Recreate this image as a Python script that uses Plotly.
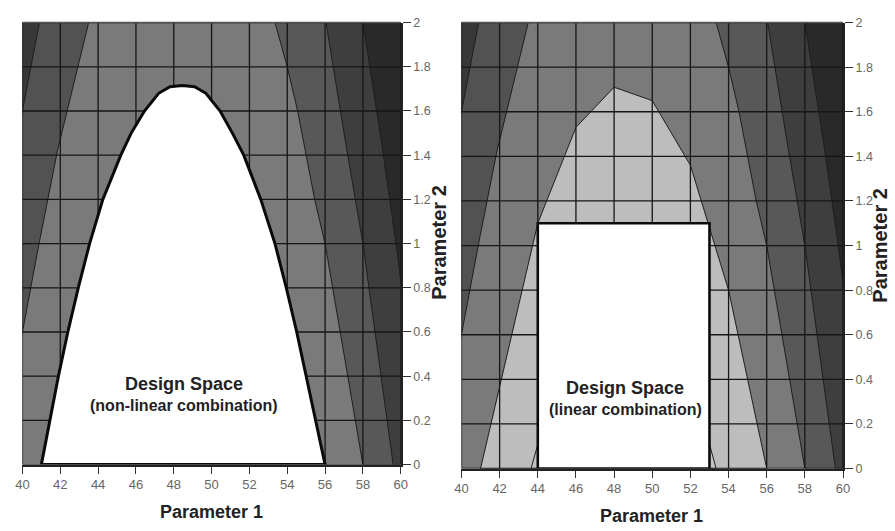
import plotly.graph_objects as go

# ---------------- data ----------------
x_ticks = [40, 42, 44, 46, 48, 50, 52, 54, 56, 58, 60]
x_ticktext = ["40", "42", "44", "46", "48", "50", "52", "54", "56", "58", "60"]
y_ticks = [0, 0.2, 0.4, 0.6, 0.8, 1.0, 1.2, 1.4, 1.6, 1.8, 2.0]
y_ticktext = ["0", "0.2", "0.4", "0.6", "0.8", "1", "1.2", "1.4", "1.6", "1.8", "2"]

# contour boundaries on the left (low Parameter 1) side
left1_x = [41.15, 40.9, 40.0, 39.3]
left1_y = [2.1, 2.0, 1.6, 1.29]
left2_x = [43.75, 43.5, 41.85, 40.9, 40.0, 39.4]
left2_y = [2.1, 2.0, 1.42, 1.01, 0.6, 0.35]

# contour boundaries on the right (high Parameter 1) side
right1_x = [53.0, 53.35, 54.0, 54.55, 55.0, 55.45, 56.0, 58.0, 58.2]
right1_y = [2.1, 2.0, 1.8, 1.6, 1.4, 1.2, 1.0, 0.0, -0.1]
right2_x = [55.8, 56.05, 57.0, 58.0, 59.6, 59.76]
right2_y = [2.1, 2.0, 1.5, 1.0, 0.0, -0.1]
right3_x = [57.8, 58.0, 59.0, 59.75, 60.5]
right3_y = [2.1, 2.0, 1.45, 1.0, 0.5]

# smooth design-space boundary (non-linear combination)
ds_curve_x = [41.0, 41.45, 41.9, 42.4, 42.95, 43.55, 44.25, 45.2, 45.75, 46.45, 47.2, 47.8,
              48.45, 49.1, 49.7, 50.45, 51.1, 51.7, 52.6, 53.35, 53.95, 54.5, 55.0, 55.5, 56.0]
ds_curve_y = [0.0, 0.2, 0.4, 0.6, 0.8, 1.0, 1.2, 1.4, 1.5, 1.6, 1.68, 1.71,
              1.715, 1.71, 1.68, 1.6, 1.5, 1.4, 1.2, 1.0, 0.8, 0.6, 0.4, 0.2, 0.0]

# coarse (grid-interpolated) contour of the same region
coarse_x = [41.0, 44.0, 46.0, 48.0, 50.0, 52.0, 54.0, 56.0]
coarse_y = [0.0, 1.1, 1.53, 1.71, 1.65, 1.36, 0.8, 0.0]
inner_x = [43.65, 44.3, 48.5, 52.7, 53.35]
inner_y = [0.0, 0.2, 0.95, 0.2, 0.0]

# rectangular design space (linear combination)
rect_x = [44, 44, 53, 53, 44]
rect_y = [0, 1.1, 1.1, 0, 0]

# ---------------- styling ----------------
C_MID = "#7a7a7a"
C_L2 = "#525252"
C_L1 = "#383838"
C_R1 = "#585858"
C_R2 = "#3e3e3e"
C_R3 = "#292929"
C_LIGHT = "#bdbdbd"
C_LINE = "#1e1e1e"
FONT = "Arial"

fig = go.Figure()


def region(xs, ys, side, color, xa, ya):
    edge = 37 if side == "left" else 63
    px = list(xs) + [edge, edge, xs[0]]
    py = list(ys) + [ys[-1], ys[0], ys[0]]
    fig.add_trace(go.Scatter(x=px, y=py, mode="lines", fill="toself", fillcolor=color,
                             line=dict(color=C_LINE, width=1), hoverinfo="skip",
                             showlegend=False, xaxis=xa, yaxis=ya))


def grid(xa, ya):
    gx, gy = [], []
    for xv in x_ticks:
        gx += [xv, xv, None]
        gy += [y_ticks[0], y_ticks[-1], None]
    for yv in y_ticks:
        gx += [x_ticks[0], x_ticks[-1], None]
        gy += [yv, yv, None]
    fig.add_trace(go.Scatter(x=gx, y=gy, mode="lines", line=dict(color="#161616", width=1.3),
                             hoverinfo="skip", showlegend=False, xaxis=xa, yaxis=ya))


for xa, ya in (("x", "y"), ("x2", "y2")):
    region(left2_x, left2_y, "left", C_L2, xa, ya)
    region(left1_x, left1_y, "left", C_L1, xa, ya)
    region(right1_x, right1_y, "right", C_R1, xa, ya)
    region(right2_x, right2_y, "right", C_R2, xa, ya)
    region(right3_x, right3_y, "right", C_R3, xa, ya)
    if xa == "x2":
        fig.add_trace(go.Scatter(x=coarse_x + [coarse_x[0]], y=coarse_y + [coarse_y[0]],
                                 mode="lines", fill="toself", fillcolor=C_LIGHT,
                                 line=dict(color=C_LINE, width=1), hoverinfo="skip",
                                 showlegend=False, xaxis=xa, yaxis=ya))
        fig.add_trace(go.Scatter(x=inner_x + [inner_x[0]], y=inner_y + [inner_y[0]],
                                 mode="lines", fill="toself", fillcolor="#c3c3c3",
                                 line=dict(color=C_LINE, width=1), hoverinfo="skip",
                                 showlegend=False, xaxis=xa, yaxis=ya))
    grid(xa, ya)

# design spaces
fig.add_trace(go.Scatter(x=ds_curve_x + [ds_curve_x[0]], y=ds_curve_y + [ds_curve_y[0]],
                         mode="lines", fill="toself", fillcolor="white",
                         line=dict(color="#0a0a0a", width=3), hoverinfo="skip",
                         showlegend=False, xaxis="x", yaxis="y"))
fig.add_trace(go.Scatter(x=rect_x, y=rect_y, mode="lines", fill="toself", fillcolor="white",
                         line=dict(color="#0a0a0a", width=2.6), hoverinfo="skip",
                         showlegend=False, xaxis="x2", yaxis="y2"))

# ---------------- axes ----------------
W, H = 895, 531
dom = {
    "1": dict(x=[15.7 / W, 400.0 / W], y=[1 - 470.0 / H, 1 - 16.0 / H]),
    "2": dict(x=[461.7 / W, 849.3 / W], y=[1 - 474.0 / H, 1 - 16.0 / H]),
}

xcommon = dict(range=[40, 60], tickvals=x_ticks, ticktext=x_ticktext, showgrid=False,
               zeroline=False, ticks="outside", ticklen=7, tickwidth=1.3, tickcolor="#333",
               showline=True, linecolor="#222", linewidth=2,
               tickfont=dict(family=FONT, size=13, color="#666"), fixedrange=True)
ycommon = dict(range=[0, 2], tickvals=y_ticks, ticktext=y_ticktext, showgrid=False,
               zeroline=False, ticks="outside", ticklen=8, tickwidth=1.3, tickcolor="#333",
               showline=True, linecolor="#222", linewidth=2, side="right",
               tickfont=dict(family=FONT, size=12.5, color="#666"), fixedrange=True)

fig.update_layout(
    width=W, height=H, margin=dict(l=0, r=0, t=0, b=0),
    paper_bgcolor="white", plot_bgcolor=C_MID, showlegend=False,
    xaxis=dict(domain=dom["1"]["x"], anchor="y", **xcommon),
    yaxis=dict(domain=dom["1"]["y"], anchor="x", **ycommon),
    xaxis2=dict(domain=dom["2"]["x"], anchor="y2", **xcommon),
    yaxis2=dict(domain=dom["2"]["y"], anchor="x2", **ycommon),
)

# top frame lines
for xr, yr in (("x domain", "y domain"), ("x2 domain", "y2 domain")):
    fig.add_shape(type="line", xref=xr, yref=yr, x0=0, x1=1, y0=1, y1=1,
                  line=dict(color="#555", width=1.5))

# ---------------- text ----------------
bold = dict(family=FONT, color="#222")
ann = [
    dict(x=48.55, y=0.366, xref="x", yref="y", text="<b>Design Space</b>",
         font=dict(size=18, **bold)),
    dict(x=48.55, y=0.269, xref="x", yref="y", text="<b>(non-linear combination)</b>",
         font=dict(size=16, **bold)),
    dict(x=48.58, y=0.362, xref="x2", yref="y2", text="<b>Design Space</b>",
         font=dict(size=18, **bold)),
    dict(x=48.58, y=0.266, xref="x2", yref="y2", text="<b>(linear combination)</b>",
         font=dict(size=16, **bold)),
    dict(x=208 / W, y=1 - 519 / H, xref="paper", yref="paper", text="<b>Parameter 1</b>",
         font=dict(size=18, **bold)),
    dict(x=655 / W, y=1 - 523 / H, xref="paper", yref="paper", text="<b>Parameter 1</b>",
         font=dict(size=18, **bold)),
    dict(x=438 / W, y=1 - 242 / H, xref="paper", yref="paper", text="<b>Parameter 2</b>",
         textangle=-90, font=dict(size=20, **bold)),
    dict(x=886 / W, y=1 - 245 / H, xref="paper", yref="paper", text="<b>Parameter 2</b>",
         textangle=-90, font=dict(size=20, **bold)),
]
for a in ann:
    a.update(showarrow=False, xanchor="center", yanchor="middle")
    fig.add_annotation(**a)

fig.write_html("out.html")
